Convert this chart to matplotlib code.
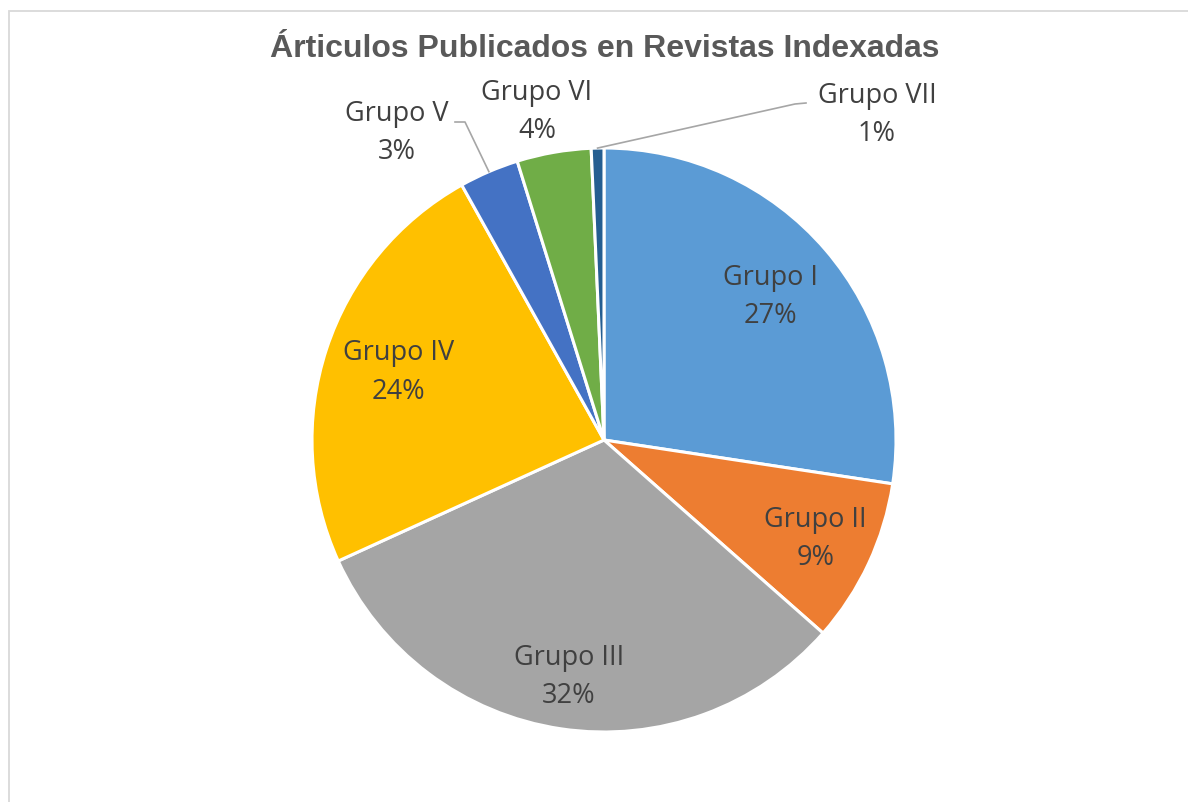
import numpy as np
import matplotlib
matplotlib.use('Agg')
import matplotlib.pyplot as plt
from matplotlib.patches import Rectangle

# Datos del gráfico
grupos = ['Grupo I', 'Grupo II', 'Grupo III', 'Grupo IV', 'Grupo V', 'Grupo VI', 'Grupo VII']
porcentajes = [27.4, 9.1, 31.7, 23.7, 3.3, 4.1, 0.7]
colores = ['#5B9BD5', '#ED7D31', '#A5A5A5', '#FFC000', '#4472C4', '#70AD47', '#255E91']
titulo = 'Árticulos Publicados en Revistas Indexadas'

W, H = 1188, 802
fig = plt.figure(figsize=(W / 100, H / 100), dpi=100)
ax = fig.add_axes([0, 0, 1, 1])

# marco del área del gráfico (sólo se ven los bordes superior e izquierdo)
ax.add_patch(Rectangle((9, -20), W + 40, H - 11 + 20, fill=False,
                       edgecolor='#D9D9D9', linewidth=1.3))

cx, cy, R = 604, H - 440, 292
wedges, _ = ax.pie(porcentajes, colors=colores, startangle=90, counterclock=False,
                   center=(cx, cy), radius=R, frame=True,
                   wedgeprops=dict(edgecolor='white', linewidth=2.2))
ax.set_xlim(0, W)
ax.set_ylim(0, H)
ax.set_aspect('equal')
ax.axis('off')

fuente = 'Open Sans'
color_txt = '#404040'
tam = 19.5
esp = 1.5

# distancia radial de las etiquetas interiores (fracción del radio)
dist_int = [0.75, 0.80, 0.82, 0.74]
# etiquetas exteriores (px): posición del texto
pos_ext = {4: (397, 133), 5: (537, 112), 6: (877, 115)}

for i, w in enumerate(wedges):
    ang = np.deg2rad((w.theta1 + w.theta2) / 2)
    texto = '%s\n%d%%' % (grupos[i], round(porcentajes[i]))
    if i in pos_ext:
        tx, ty = pos_ext[i]
        x, y = tx, H - ty
    else:
        d = dist_int[i] * R
        x, y = cx + d * np.cos(ang), cy + d * np.sin(ang)
    ax.text(x, y, texto, ha='center', va='center', fontsize=tam,
            family=fuente, color=color_txt, linespacing=esp)

# líneas guía
for i, (x1, y1, x2, y2) in {4: (465, 122, 455, 122), 6: (795, 104, 806, 103)}.items():
    w = wedges[i]
    ang = np.deg2rad((w.theta1 + w.theta2) / 2)
    px, py = cx + R * np.cos(ang), cy + R * np.sin(ang)
    ax.plot([px, x1, x2], [py, H - y1, H - y2], color='#A6A6A6', linewidth=1.2)

ax.text(605, H - 49, titulo, ha='center', va='center', fontsize=23,
        fontweight='bold', family='Liberation Sans', color='#595959')

fig.savefig('out.png', dpi=100)
